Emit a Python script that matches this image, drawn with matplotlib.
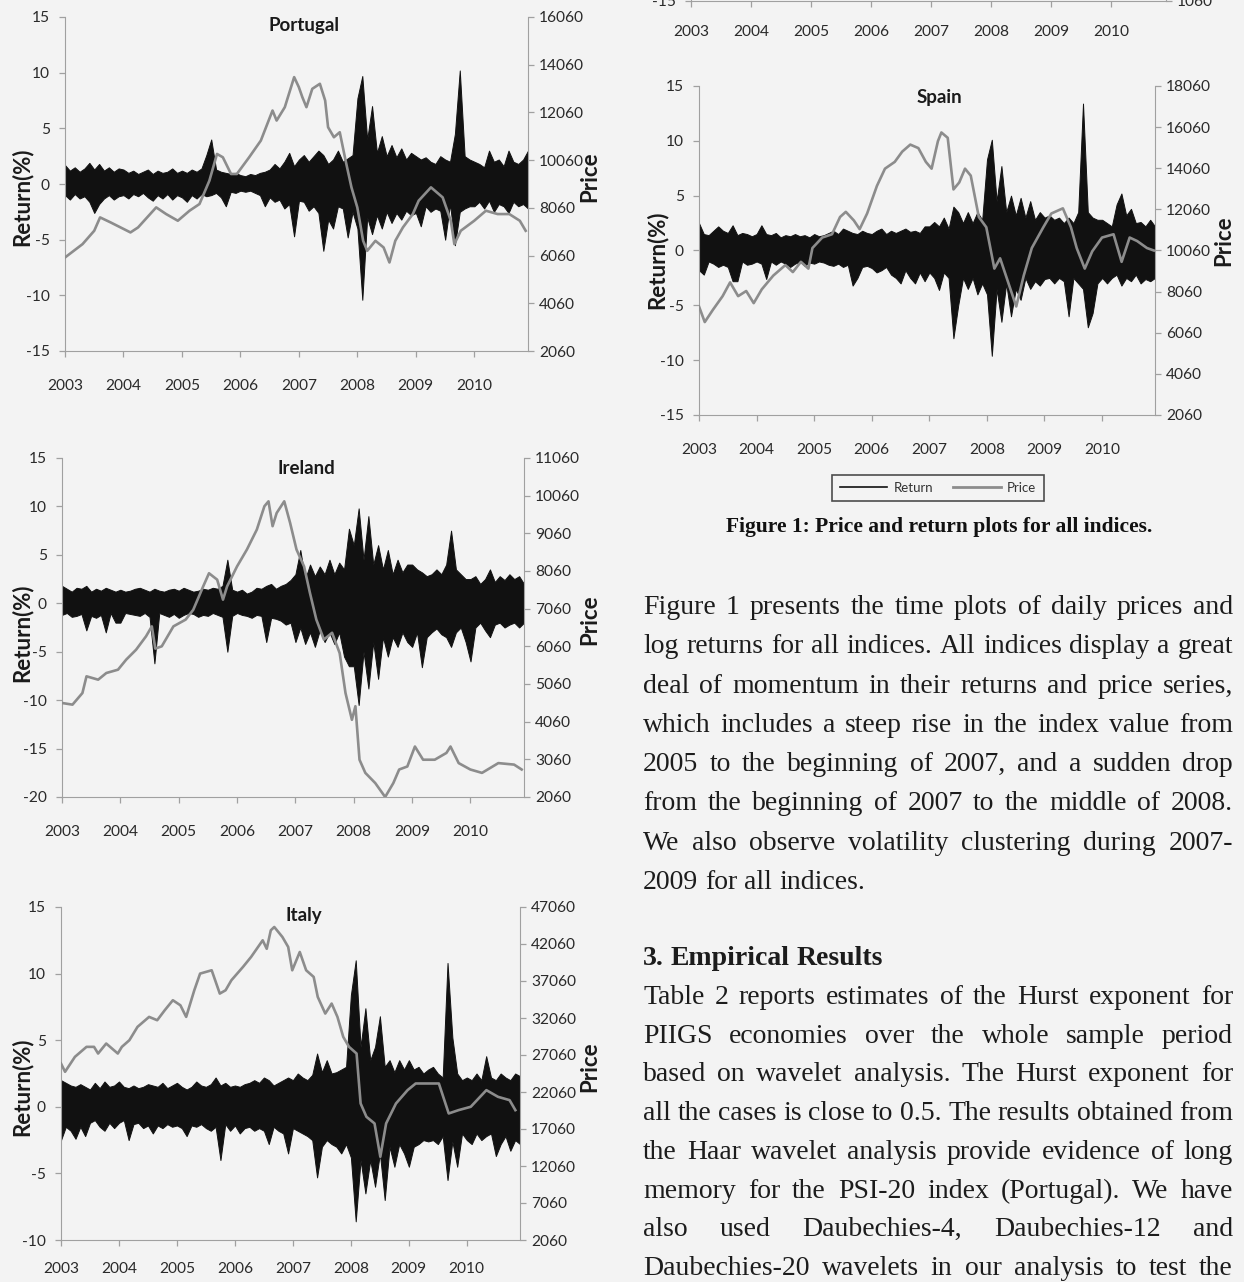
import numpy as np
import matplotlib.pyplot as plt
from matplotlib.lines import Line2D

W, H = 1244, 1282
BG = '#f3f3f3'
RET_C = '#111111'
PRICE_C = '#8c8c8c'
SPINE_C = '#a0a0a0'
TICK_C = '#2a2a2a'

years = [2003, 2004, 2005, 2006, 2007, 2008, 2009, 2010]
x_end = 2010.92

# monthly range of the daily log returns (%): highest and lowest day of each month
pt_hi = [1.7, 1.2, 1.5, 1.1, 1.4, 1.9, 1.3, 1.8, 1.2, 1.5, 1.1, 1.4,
         1.3, 1.0, 1.2, 0.9, 1.1, 1.3, 0.9, 1.2, 1.0, 1.1, 1.4, 1.0,
         1.2, 1.0, 1.3, 1.1, 1.4, 2.6, 4.0, 1.3, 1.1, 1.0, 0.9, 1.0,
         0.8, 0.7, 0.9, 0.8, 1.0, 1.1, 1.3, 1.8, 1.4, 2.0, 2.8, 1.6,
         2.2, 2.6, 2.0, 2.5, 3.0, 2.6, 1.8, 2.2, 3.0, 2.0, 2.3, 2.6,
         7.7, 9.7, 4.0, 7.0, 2.8, 4.3, 2.5, 3.5, 2.4, 3.2, 2.2, 2.8,
         2.5, 2.2, 2.4, 2.0, 1.8, 2.5, 2.2, 2.0, 4.5, 10.2, 2.5, 2.2,
         2.0, 1.8, 1.5, 3.0, 2.0, 2.2, 1.6, 3.0, 2.0, 1.8, 2.2, 3.0]
pt_lo = [-1.0, -1.4, -0.9, -1.3, -1.1, -1.6, -2.6, -1.8, -1.3, -1.0, -1.4, -1.1,
         -1.0, -1.3, -0.9, -1.1, -0.8, -1.2, -1.5, -1.0, -1.3, -0.9, -1.4, -1.0,
         -1.2, -1.6, -1.0, -1.3, -0.9, -1.1, -1.0, -0.8, -1.2, -2.0, -0.7, -0.8,
         -0.6, -0.7, -0.6, -0.8, -1.0, -2.0, -1.2, -1.6, -1.4, -2.2, -1.8, -4.7,
         -1.5, -1.6, -2.4, -2.0, -2.6, -6.0, -3.2, -4.0, -2.0, -2.2, -4.8, -2.5,
         -4.0, -10.4, -3.0, -4.5, -2.8, -4.0, -2.5, -3.5, -2.6, -3.2, -2.4, -2.8,
         -2.6, -3.8, -2.0, -2.5, -2.2, -2.4, -5.0, -1.8, -5.5, -2.5, -2.2, -2.0,
         -2.0, -1.6, -2.2, -1.5, -2.5, -1.8, -2.0, -2.6, -1.6, -2.0, -1.8, -2.2]

ie_hi = [1.8, 1.5, 1.2, 1.6, 1.5, 1.8, 1.2, 1.5, 1.3, 1.6, 1.4, 1.2,
         1.4, 1.2, 1.3, 1.5, 1.6, 1.4, 1.2, 1.5, 1.3, 1.2, 1.4, 1.5,
         1.3, 1.6, 1.4, 1.2, 1.3, 1.5, 1.4, 1.6, 1.5, 1.8, 4.5, 1.4,
         1.2, 1.4, 1.0, 1.2, 1.6, 1.5, 1.8, 2.0, 1.5, 1.8, 2.0, 2.4,
         3.0, 5.5, 2.5, 4.0, 2.8, 3.8, 3.0, 4.5, 3.0, 4.2, 3.5, 7.7,
         6.0, 9.8, 4.5, 9.0, 4.0, 6.0, 3.5, 5.5, 3.0, 4.5, 3.2, 4.0,
         4.0, 3.5, 3.2, 2.8, 3.0, 3.5, 3.0, 4.0, 7.5, 3.5, 3.0, 2.5,
         2.5, 2.8, 2.0, 2.5, 3.5, 2.2, 2.8, 2.4, 3.0, 2.5, 2.8, 2.0]
ie_lo = [-1.2, -1.0, -1.4, -1.3, -1.1, -2.8, -1.3, -1.5, -1.2, -3.0, -1.0, -2.0,
         -2.0, -1.0, -1.1, -1.2, -1.3, -1.0, -1.4, -6.2, -1.0, -1.2, -1.4, -1.1,
         -1.5, -1.2, -1.0, -1.1, -1.4, -1.2, -1.3, -1.0, -1.2, -1.4, -5.0, -1.3,
         -1.0, -1.2, -1.3, -1.5, -1.2, -1.3, -4.0, -1.5, -1.6, -1.8, -2.2, -2.0,
         -4.0, -2.5, -4.2, -3.0, -4.5, -2.8, -4.0, -3.0, -4.2, -3.0, -5.5, -6.5,
         -6.5, -10.5, -5.0, -8.8, -4.0, -7.8, -3.5, -5.5, -3.5, -4.5, -3.0, -4.0,
         -4.5, -3.0, -6.6, -3.5, -3.0, -2.6, -3.2, -3.5, -4.5, -3.0, -2.5, -4.0,
         -6.0, -2.5, -2.0, -2.8, -3.5, -2.2, -2.0, -2.5, -2.2, -2.0, -2.5, -2.0]

it_hi = [2.0, 1.8, 1.6, 1.5, 1.7, 1.5, 1.3, 1.8, 1.4, 1.9, 1.5, 1.6,
         1.9, 1.5, 1.4, 1.6, 1.4, 1.5, 1.7, 1.6, 1.5, 1.8, 1.4, 1.6,
         1.8, 1.5, 1.3, 1.5, 1.9, 1.6, 1.5, 1.7, 2.2, 1.6, 1.8, 1.5,
         1.6, 1.5, 1.7, 1.8, 2.0, 1.8, 2.2, 2.0, 1.6, 1.8, 2.0, 2.2,
         2.0, 2.5, 2.2, 2.0, 2.4, 4.0, 2.6, 3.5, 2.5, 2.6, 2.8, 3.0,
         8.4, 11.0, 4.5, 7.4, 3.5, 4.5, 6.8, 3.0, 3.5, 2.6, 3.5, 2.8,
         3.5, 2.8, 3.0, 2.5, 2.8, 3.0, 2.5, 2.2, 10.8, 5.2, 2.5, 2.0,
         2.2, 2.0, 2.5, 2.0, 3.8, 2.2, 2.0, 2.5, 2.2, 2.0, 2.5, 2.3]
it_lo = [-2.5, -1.5, -1.8, -2.4, -1.5, -2.2, -1.2, -1.0, -1.5, -1.8, -1.2, -1.6,
         -1.2, -1.0, -2.5, -1.3, -1.2, -1.6, -1.4, -2.0, -1.4, -1.6, -1.3, -1.5,
         -1.4, -1.6, -2.2, -1.4, -1.5, -1.3, -1.6, -1.8, -1.5, -4.0, -1.3, -1.8,
         -1.4, -2.0, -1.6, -1.5, -1.8, -1.6, -1.8, -2.8, -1.5, -1.8, -2.0, -3.5,
         -1.6, -1.8, -2.0, -2.2, -2.5, -5.3, -3.0, -2.5, -2.8, -3.0, -3.5, -2.8,
         -3.8, -8.6, -4.0, -6.5, -4.0, -6.0, -3.5, -7.0, -3.0, -4.5, -2.8, -3.5,
         -4.5, -3.0, -2.8, -2.5, -2.6, -2.5, -2.8, -2.2, -5.5, -2.6, -4.5, -2.0,
         -2.5, -2.8, -2.0, -2.5, -2.2, -2.0, -3.7, -2.8, -2.2, -3.3, -2.5, -2.8]

es_hi = [2.5, 1.5, 1.4, 1.8, 2.2, 1.8, 1.6, 2.3, 1.4, 1.6, 1.5, 1.3,
         1.5, 2.3, 1.5, 1.4, 1.6, 1.2, 1.4, 1.3, 1.5, 1.3, 1.4, 1.2,
         1.5, 1.3, 1.4, 1.6, 1.8, 1.5, 2.0, 1.8, 1.6, 1.5, 1.8, 1.6,
         1.5, 1.8, 2.0, 1.5, 1.8, 1.6, 1.8, 2.0, 1.7, 1.8, 1.6, 2.2,
         2.2, 2.6, 2.2, 3.0, 2.0, 4.0, 3.5, 2.5, 3.5, 2.5, 3.5, 2.8,
         8.3, 10.1, 4.5, 7.7, 3.5, 5.0, 3.2, 4.8, 3.0, 4.5, 2.8, 3.5,
         3.0, 3.2, 2.8, 3.0, 2.5, 3.0, 2.5, 3.5, 13.4, 3.5, 3.0, 2.8,
         2.8, 2.5, 2.2, 4.2, 5.2, 3.2, 3.8, 2.5, 2.6, 2.2, 2.8, 2.2]
es_lo = [-1.8, -2.2, -1.0, -1.2, -1.5, -1.3, -1.5, -2.8, -2.8, -1.0, -1.3, -1.2,
         -1.0, -1.2, -2.6, -1.0, -1.3, -1.0, -1.2, -1.5, -1.2, -1.0, -1.4, -1.1,
         -1.2, -1.0, -1.1, -1.3, -1.4, -1.2, -1.5, -1.3, -3.2, -2.5, -1.5, -1.4,
         -1.6, -2.0, -1.8, -1.5, -2.2, -2.5, -3.0, -1.8, -2.5, -3.0, -2.0, -2.8,
         -2.0, -2.5, -3.6, -2.0, -2.5, -8.0, -5.0, -2.5, -3.5, -2.5, -4.0, -3.0,
         -4.0, -9.6, -3.5, -6.5, -3.0, -6.0, -3.5, -4.5, -2.5, -3.5, -2.8, -3.2,
         -2.6, -2.5, -3.0, -2.5, -2.8, -6.0, -2.5, -3.0, -3.5, -7.0, -5.7, -3.0,
         -2.5, -3.0, -2.5, -2.2, -3.2, -2.5, -2.8, -2.2, -3.0, -2.6, -2.8, -2.5]

# index prices (date in decimal years, level)
pt_py = [2003.0, 2003.3, 2003.5, 2003.6, 2003.78, 2004.12, 2004.25, 2004.56, 2004.73, 2004.93,
         2005.13, 2005.3, 2005.47, 2005.6, 2005.7, 2005.84, 2005.94, 2006.15, 2006.35, 2006.55,
         2006.62, 2006.76, 2006.92, 2007.0, 2007.06, 2007.13, 2007.23, 2007.36, 2007.45, 2007.5,
         2007.6, 2007.7, 2007.8, 2007.9, 2008.0, 2008.1, 2008.17, 2008.31, 2008.45, 2008.55,
         2008.65, 2008.78, 2008.95, 2009.05, 2009.26, 2009.46, 2009.6, 2009.66, 2009.77, 2010.0,
         2010.2, 2010.4, 2010.6, 2010.78, 2010.88]
pt_pv = [5980, 6540, 7100, 7660, 7450, 7030, 7240, 8080, 7800, 7520,
         7940, 8220, 9200, 10320, 10180, 9480, 9480, 10180, 10880, 12140,
         11720, 12280, 13540, 13120, 12700, 12280, 13050, 13260, 12560, 11440,
         11020, 11230, 10040, 8920, 8080, 6680, 6260, 6680, 6400, 5770,
         6680, 7240, 7800, 8360, 8920, 8500, 7520, 6540, 7100, 7520,
         7940, 7800, 7800, 7520, 7100]

ie_py = [2003.0, 2003.18, 2003.35, 2003.42, 2003.62, 2003.76, 2003.96, 2004.1, 2004.27, 2004.44,
         2004.54, 2004.6, 2004.71, 2004.91, 2005.12, 2005.25, 2005.42, 2005.52, 2005.66, 2005.76,
         2005.83, 2006.0, 2006.17, 2006.34, 2006.47, 2006.54, 2006.61, 2006.68, 2006.81, 2006.91,
         2007.02, 2007.15, 2007.25, 2007.36, 2007.49, 2007.63, 2007.76, 2007.86, 2007.97, 2008.03,
         2008.1, 2008.2, 2008.37, 2008.54, 2008.68, 2008.78, 2008.92, 2009.05, 2009.19, 2009.39,
         2009.59, 2009.66, 2009.8, 2010.0, 2010.2, 2010.48, 2010.75, 2010.88]
ie_pv = [4556, 4512, 4820, 5264, 5175, 5352, 5440, 5706, 5970, 6325,
         6590, 6000, 6060, 6590, 6770, 7030, 7650, 8000, 7830, 7300,
         7650, 8180, 8630, 9160, 9780, 9910, 9250, 9600, 9910, 9340,
         8630, 8180, 7480, 6770, 6240, 6420, 5880, 4820, 4110, 4470,
         3050, 2700, 2430, 2060, 2430, 2790, 2870, 3400, 3050, 3050,
         3230, 3400, 2960, 2790, 2700, 2960, 2920, 2790]

it_py = [2003.0, 2003.07, 2003.24, 2003.44, 2003.57, 2003.64, 2003.78, 2003.98, 2004.05, 2004.18,
         2004.32, 2004.52, 2004.66, 2004.79, 2004.93, 2005.06, 2005.16, 2005.3, 2005.4, 2005.6,
         2005.74, 2005.84, 2005.94, 2006.14, 2006.28, 2006.48, 2006.55, 2006.62, 2006.68, 2006.82,
         2006.92, 2006.99, 2007.12, 2007.23, 2007.36, 2007.43, 2007.56, 2007.67, 2007.77, 2007.87,
         2007.97, 2008.1, 2008.17, 2008.27, 2008.41, 2008.51, 2008.61, 2008.78, 2008.98, 2009.12,
         2009.32, 2009.52, 2009.69, 2009.86, 2010.07, 2010.34, 2010.54, 2010.74, 2010.84]
it_pv = [25910, 24790, 26810, 28160, 28160, 27260, 28610, 27260, 28160, 29060,
         30860, 32210, 31760, 33110, 34460, 33780, 32210, 35810, 38060, 38510,
         35360, 35810, 37160, 38960, 40310, 42560, 41410, 43910, 44360, 43010,
         41660, 38510, 40980, 38510, 37610, 34910, 32660, 34010, 32210, 29510,
         28160, 27260, 20510, 18710, 17810, 13310, 17810, 20510, 22310, 23210,
         23210, 23210, 19160, 19610, 20060, 22310, 21410, 20960, 19610]

es_py = [2003.0, 2003.1, 2003.24, 2003.41, 2003.54, 2003.68, 2003.82, 2003.95, 2004.09, 2004.29,
         2004.5, 2004.63, 2004.77, 2004.9, 2004.97, 2005.14, 2005.31, 2005.45, 2005.55, 2005.69,
         2005.79, 2005.92, 2006.09, 2006.23, 2006.4, 2006.53, 2006.67, 2006.81, 2006.94, 2007.04,
         2007.15, 2007.21, 2007.32, 2007.42, 2007.52, 2007.62, 2007.72, 2007.86, 2007.99, 2008.13,
         2008.23, 2008.37, 2008.51, 2008.64, 2008.78, 2008.98, 2009.12, 2009.32, 2009.46, 2009.56,
         2009.7, 2009.83, 2010.0, 2010.2, 2010.34, 2010.48, 2010.61, 2010.78, 2010.9]
es_pv = [7340, 6580, 7170, 7840, 8510, 7840, 8090, 7500, 8170, 8840,
         9350, 9010, 9510, 9180, 10180, 10690, 10850, 11690, 11940, 11520,
         11100, 11860, 13200, 14040, 14370, 14870, 15210, 15040, 14370, 14040,
         15380, 15800, 15540, 13030, 13370, 14040, 13700, 11690, 11190, 9180,
         9680, 8510, 7340, 8840, 10180, 11190, 11860, 12110, 11190, 10180,
         9180, 10020, 10690, 10850, 9510, 10690, 10520, 10180, 10060]

plt.rcParams['font.family'] = ['Lato', 'DejaVu Sans']
plt.rcParams['axes.unicode_minus'] = False

fig = plt.figure(figsize=(W / 100, H / 100), dpi=100, facecolor=BG)


def box(l, t, r, b):
    return [l / W, 1 - b / H, (r - l) / W, (b - t) / H]


def px(x, y):
    return x / W, 1 - y / H


def style(ax, side):
    for s in ['top', 'left', 'right', 'bottom']:
        ax.spines[s].set_visible(False)
    ax.spines[side].set_visible(True)
    ax.spines[side].set_color(SPINE_C)
    ax.tick_params(colors=SPINE_C, labelcolor=TICK_C, labelsize=11.2, length=4, width=0.9)


def panel(rect, hi, lo, py, pv, ylim, ystep, plim, pstep, xpad=16):
    ax = fig.add_axes(box(*rect))
    ax.patch.set_visible(False)
    t = np.linspace(2003, x_end, len(hi))
    ax.fill_between(t, lo, hi, color=RET_C, lw=0.7)
    ax.set_xlim(2003, x_end)
    ax.set_ylim(*ylim)
    ax.set_yticks(np.arange(ylim[0], ylim[1] + 1, ystep))
    ax.set_xticks(years)
    style(ax, 'left')
    ax.spines['bottom'].set_visible(True)
    ax.spines['bottom'].set_color(SPINE_C)
    ax.tick_params(axis='x', pad=xpad)
    ax.tick_params(axis='y', pad=7)
    ax2 = ax.twinx()
    ax2.plot(py, pv, color=PRICE_C, lw=1.9)
    ax2.set_ylim(*plim)
    ax2.set_yticks(np.arange(plim[0], plim[1] + 1, pstep))
    style(ax2, 'right')
    ax2.tick_params(axis='y', pad=4)
    return ax, ax2


panel((65, 17, 528, 351), pt_hi, pt_lo, pt_py, pt_pv, (-15, 15), 5, (2060, 16060), 2000)
panel((62, 458, 524, 797), ie_hi, ie_lo, ie_py, ie_pv, (-20, 15), 5, (2060, 11060), 1000)
panel((61, 907, 520, 1240), it_hi, it_lo, it_py, it_pv, (-10, 15), 5, (2060, 47060), 5000, xpad=12)
panel((699, 86, 1155, 415), es_hi, es_lo, es_py, es_pv, (-15, 15), 5, (2060, 18060), 2000)

# the panel above Spain is cut off by the page edge: only its axis labels show
axt = fig.add_axes([691 / W, 1 - 1 / H, 475 / W, 300 / H])
axt.patch.set_visible(False)
axt.set_xlim(2003, x_end)
axt.set_ylim(-15, 15)
axt.set_yticks([-15])
axt.set_xticks(years)
style(axt, 'left')
axt.spines['bottom'].set_visible(True)
axt.spines['bottom'].set_color(SPINE_C)
axt.tick_params(axis='x', pad=13)
axt.tick_params(axis='y', pad=7)
axt2 = axt.twinx()
axt2.set_ylim(1060, 15060)
axt2.set_yticks([1060])
style(axt2, 'right')
axt2.tick_params(axis='y', pad=4)

titles = [('Portugal', 304, 25), ('Ireland', 306, 468), ('Italy', 304, 915), ('Spain', 939, 97)]
for name, x, y in titles:
    fig.text(*px(x, y), name, ha='center', va='center', fontsize=13.5, fontweight='bold', color='#1a1a1a')

for x, y in [(22, 197), (22, 633), (22, 1087), (657, 260)]:
    fig.text(*px(x, y), 'Return(%)', rotation=90, ha='center', va='center',
             fontsize=16, fontweight='bold', color='#1a1a1a')
for x, y in [(590, 177), (590, 620), (590, 1067), (1224, 241)]:
    fig.text(*px(x, y), 'Price', rotation=90, ha='center', va='center',
             fontsize=16, fontweight='bold', color='#1a1a1a')

handles = [Line2D([], [], color=RET_C, lw=1.2), Line2D([], [], color=PRICE_C, lw=2)]
leg = fig.legend(handles, ['Return', 'Price'], loc='center', bbox_to_anchor=px(938, 488),
                 ncol=2, fontsize=9.5, frameon=True, fancybox=False, edgecolor='#222222',
                 handlelength=3.6, columnspacing=1.5, borderpad=0.55, handletextpad=0.5)
leg.get_frame().set_facecolor(BG)
leg.get_frame().set_linewidth(1.2)
for txt in leg.get_texts():
    txt.set_color('#333333')

renderer = fig.canvas.get_renderer()
SERIF = 'Liberation Serif'
fig.text(*px(939, 532), 'Figure 1: Price and return plots for all indices.', ha='center',
         va='baseline', family=SERIF, fontweight='bold', fontsize=15.5, color='#111111')


def put_line(s, y, justify=True, x0=643, x1=1233, size=20, weight='normal'):
    words = s.split()
    ts = [fig.text(*px(x0, y), w, ha='left', va='baseline', family=SERIF,
                   fontsize=size, fontweight=weight, color='#1c1c1c') for w in words]
    widths = [t.get_window_extent(renderer).width for t in ts]
    if justify and len(words) > 1:
        gap = max(3, (x1 - x0 - sum(widths)) / (len(words) - 1))
    else:
        gap = size * 100 / 72 * 0.25
    x = x0
    for t, w in zip(ts, widths):
        t.set_x(x / W)
        x += w + gap


para1 = ['Figure 1 presents the time plots of daily prices and',
         'log returns for all indices. All indices display a great',
         'deal of momentum in their returns and price series,',
         'which includes a steep rise in the index value from',
         '2005 to the beginning of 2007, and a sudden drop',
         'from the beginning of 2007 to the middle of 2008.',
         'We also observe volatility clustering during 2007-']
for i, s in enumerate(para1):
    put_line(s, 614 + i * 39.3)
put_line('2009 for all indices.', 614 + 7 * 39.3, justify=False)

put_line('3.  Empirical Results', 965, justify=False, weight='bold')
para2 = ['Table 2 reports estimates of the Hurst exponent for',
         'PIIGS economies over the whole sample period',
         'based on wavelet analysis. The Hurst exponent for',
         'all the cases is close to 0.5. The results obtained from',
         'the Haar wavelet analysis provide evidence of long',
         'memory for the PSI-20 index (Portugal). We have',
         'also used Daubechies-4, Daubechies-12 and',
         'Daubechies-20 wavelets in our analysis to test the']
for i, s in enumerate(para2):
    put_line(s, 1004 + i * 38.7)

fig.savefig('out.png', dpi=100, facecolor=BG)
